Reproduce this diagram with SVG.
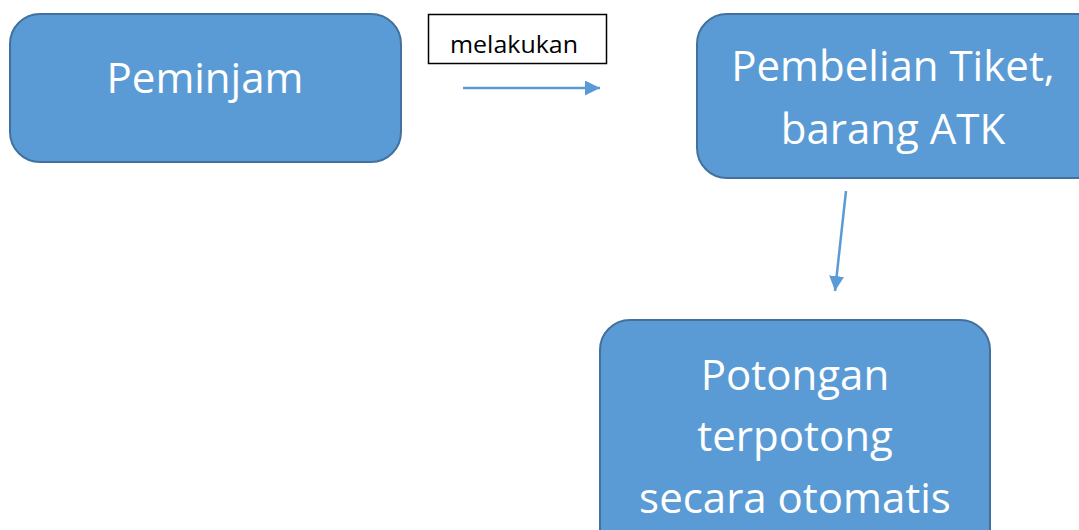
<svg xmlns="http://www.w3.org/2000/svg" width="1079" height="530" viewBox="0 0 1079 530">
<style>
.node{fill:#5B9BD5;stroke:#41719C;stroke-width:2}
.nt{fill:#fff;font-family:"Open Sans","Noto Sans",sans-serif;font-size:42px;text-anchor:middle}
.lbl{fill:#000;font-family:"Open Sans","Noto Sans",sans-serif;font-size:23px;text-anchor:middle}
.conn{stroke:#5B9BD5;stroke-width:2.5;fill:none}
</style>
<defs>
<marker id="ah" viewBox="0 0 10 10" refX="10" refY="5" markerWidth="6" markerHeight="6" orient="auto" markerUnits="strokeWidth">
<path d="M0,0 L10,5 L0,10 z" fill="#5B9BD5"/>
</marker>
</defs>
<rect width="1079" height="530" fill="#fff"/>
<g id="n1">
<rect class="node" x="10" y="14" width="391" height="148" rx="30"/>
<text class="nt" x="205" y="93">Peminjam</text>
</g>
<g id="n2">
<rect class="node" x="697" y="14" width="410" height="164" rx="30"/>
<text class="nt" x="893" y="81">Pembelian Tiket,</text>
<text class="nt" x="893" y="144">barang ATK</text>
</g>
<g id="n3">
<rect class="node" x="600" y="320" width="390" height="240" rx="30"/>
<text class="nt" x="795" y="390">Potongan</text>
<text class="nt" x="795" y="451">terpotong</text>
<text class="nt" x="795" y="513">secara otomatis</text>
</g>
<g id="label">
<rect x="428.5" y="14.5" width="178" height="49" fill="#fff" stroke="#000" stroke-width="1.5"/>
<text class="lbl" x="514" y="53" textLength="128" lengthAdjust="spacingAndGlyphs">melakukan</text>
</g>
<g id="connectors">
<line class="conn" x1="463" y1="88" x2="600" y2="88" marker-end="url(#ah)"/>
<line class="conn" x1="846" y1="191" x2="835" y2="291" marker-end="url(#ah)"/>
</g>
</svg>
